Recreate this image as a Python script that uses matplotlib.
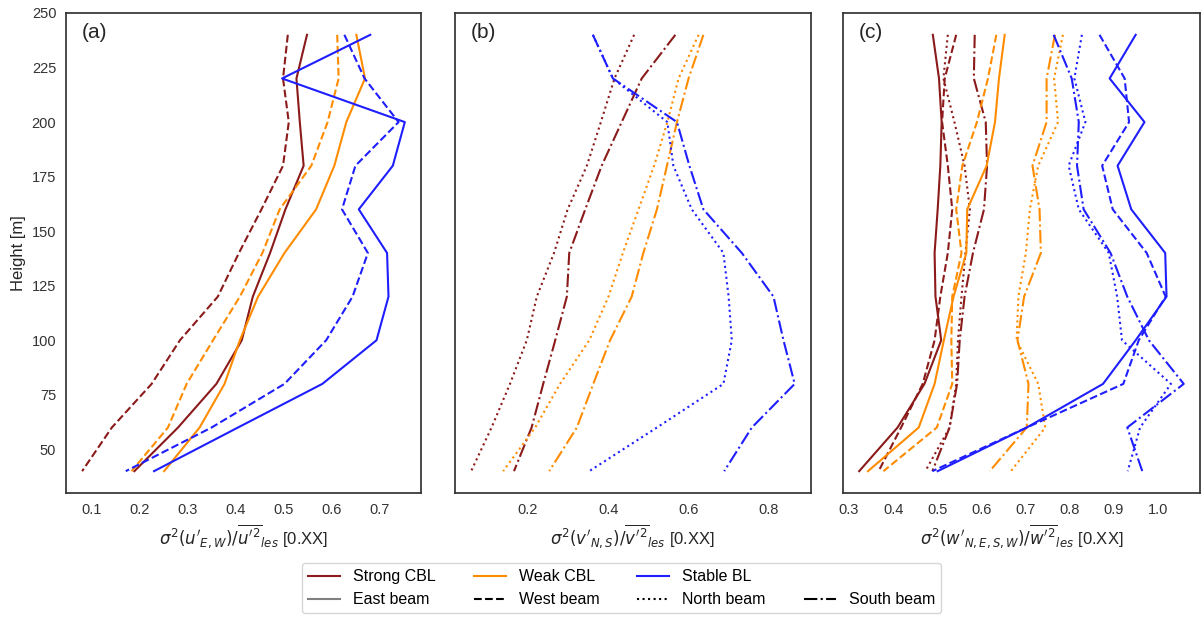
import matplotlib
matplotlib.use('Agg')
import matplotlib.pyplot as plt
from matplotlib.lines import Line2D

plt.rcParams['font.family'] = ['Liberation Sans', 'DejaVu Sans']
plt.rcParams['mathtext.fontset'] = 'dejavusans'

heights = [240, 220, 200, 180, 160, 140, 120, 100, 80, 60, 40]

# (a) u variance, east / west beams
strong_u_east = [0.549, 0.527, 0.534, 0.542, 0.504, 0.472, 0.436, 0.413, 0.360, 0.280, 0.189]
strong_u_west = [0.509, 0.499, 0.511, 0.499, 0.454, 0.407, 0.363, 0.284, 0.225, 0.142, 0.080]
weak_u_east = [0.652, 0.670, 0.631, 0.606, 0.568, 0.502, 0.447, 0.409, 0.377, 0.325, 0.251]
weak_u_west = [0.612, 0.615, 0.592, 0.558, 0.492, 0.456, 0.409, 0.353, 0.298, 0.259, 0.183]
stable_u_east = [0.681, 0.497, 0.753, 0.728, 0.657, 0.716, 0.719, 0.694, 0.581, 0.405, 0.230]
stable_u_west = [0.627, 0.669, 0.740, 0.650, 0.622, 0.676, 0.644, 0.589, 0.502, 0.350, 0.171]

# (b) v variance, north / south beams
strong_v_north = [0.465, 0.416, 0.382, 0.347, 0.299, 0.265, 0.222, 0.197, 0.155, 0.109, 0.058]
strong_v_south = [0.568, 0.484, 0.434, 0.384, 0.343, 0.303, 0.297, 0.268, 0.238, 0.209, 0.165]
weak_v_north = [0.626, 0.576, 0.548, 0.515, 0.476, 0.437, 0.401, 0.353, 0.280, 0.218, 0.138]
weak_v_south = [0.638, 0.601, 0.572, 0.547, 0.522, 0.488, 0.459, 0.405, 0.363, 0.322, 0.253]
stable_v_north = [0.362, 0.412, 0.548, 0.563, 0.609, 0.688, 0.701, 0.709, 0.688, 0.522, 0.353]
stable_v_south = [0.362, 0.412, 0.572, 0.603, 0.638, 0.734, 0.813, 0.838, 0.866, 0.759, 0.690]

# (c) w variance, all four beams
strong_w_east = [0.490, 0.504, 0.510, 0.507, 0.501, 0.494, 0.496, 0.509, 0.471, 0.410, 0.323]
strong_w_west = [0.543, 0.517, 0.511, 0.524, 0.534, 0.524, 0.507, 0.494, 0.467, 0.418, 0.367]
strong_w_north = [0.524, 0.514, 0.539, 0.562, 0.574, 0.564, 0.555, 0.547, 0.543, 0.528, 0.473]
strong_w_south = [0.585, 0.583, 0.610, 0.613, 0.606, 0.581, 0.562, 0.551, 0.545, 0.528, 0.489]
weak_w_east = [0.653, 0.640, 0.631, 0.612, 0.568, 0.566, 0.537, 0.515, 0.494, 0.458, 0.343]
weak_w_west = [0.634, 0.615, 0.590, 0.557, 0.543, 0.555, 0.534, 0.532, 0.534, 0.499, 0.378]
weak_w_north = [0.785, 0.765, 0.774, 0.729, 0.710, 0.701, 0.684, 0.680, 0.729, 0.745, 0.667]
weak_w_south = [0.767, 0.748, 0.748, 0.716, 0.732, 0.735, 0.697, 0.682, 0.707, 0.703, 0.619]
stable_w_east = [0.950, 0.891, 0.970, 0.909, 0.940, 1.017, 1.020, 0.950, 0.876, 0.703, 0.501]
stable_w_west = [0.868, 0.925, 0.935, 0.874, 0.898, 0.975, 1.018, 0.957, 0.922, 0.703, 0.489]
stable_w_north = [0.828, 0.811, 0.836, 0.798, 0.821, 0.889, 0.908, 0.919, 1.030, 0.960, 0.932]
stable_w_south = [0.764, 0.805, 0.821, 0.817, 0.832, 0.893, 0.931, 0.980, 1.059, 0.931, 0.965]

c_strong = '#8b1a1a'
c_weak = '#ff8c00'
c_stable = '#1e1eff'
lw = 1.5

fig = plt.figure(figsize=(12.02, 6.19), dpi=100)
ax_a = fig.add_axes([0.0549, 0.2036, 0.2953, 0.7754])
ax_b = fig.add_axes([0.3785, 0.2036, 0.2961, 0.7754], sharey=ax_a)
ax_c = fig.add_axes([0.7013, 0.2036, 0.2970, 0.7754], sharey=ax_a)

# (a)
ax_a.plot(strong_u_east, heights, color=c_strong, ls='-', lw=lw)
ax_a.plot(strong_u_west, heights, color=c_strong, ls='--', lw=lw)
ax_a.plot(weak_u_east, heights, color=c_weak, ls='-', lw=lw)
ax_a.plot(weak_u_west, heights, color=c_weak, ls='--', lw=lw)
ax_a.plot(stable_u_east, heights, color=c_stable, ls='-', lw=lw)
ax_a.plot(stable_u_west, heights, color=c_stable, ls='--', lw=lw)

# (b)
ax_b.plot(strong_v_north, heights, color=c_strong, ls=':', lw=lw)
ax_b.plot(strong_v_south, heights, color=c_strong, ls='-.', lw=lw)
ax_b.plot(weak_v_north, heights, color=c_weak, ls=':', lw=lw)
ax_b.plot(weak_v_south, heights, color=c_weak, ls='-.', lw=lw)
ax_b.plot(stable_v_north, heights, color=c_stable, ls=':', lw=lw)
ax_b.plot(stable_v_south, heights, color=c_stable, ls='-.', lw=lw)

# (c)
for vals, col, ls in [(strong_w_east, c_strong, '-'), (strong_w_west, c_strong, '--'),
                      (strong_w_north, c_strong, ':'), (strong_w_south, c_strong, '-.'),
                      (weak_w_east, c_weak, '-'), (weak_w_west, c_weak, '--'),
                      (weak_w_north, c_weak, ':'), (weak_w_south, c_weak, '-.'),
                      (stable_w_east, c_stable, '-'), (stable_w_west, c_stable, '--'),
                      (stable_w_north, c_stable, ':'), (stable_w_south, c_stable, '-.')]:
    ax_c.plot(vals, heights, color=col, ls=ls, lw=lw)

ax_a.set_yticks(range(50, 251, 25))
ax_a.set_ylim(30, 250)
ax_a.set_xticks([0.1, 0.2, 0.3, 0.4, 0.5, 0.6, 0.7])
ax_b.set_xticks([0.2, 0.4, 0.6, 0.8])
ax_c.set_xticks([0.3, 0.4, 0.5, 0.6, 0.7, 0.8, 0.9, 1.0])
ax_c.set_xticklabels(['0.3', '0.4', '0.5', '0.6', '0.7', '0.8', '0.9', '1.0'])
ax_a.set_ylabel('Height [m]', fontsize=12, color='#262626')

ax_a.set_xlabel(r"$\sigma^2(u'_{E,W})/\overline{u'^2}_{les}$ [0.XX]", fontsize=12, color='#262626')
ax_b.set_xlabel(r"$\sigma^2(v'_{N,S})/\overline{v'^2}_{les}$ [0.XX]", fontsize=12, color='#262626')
ax_c.set_xlabel(r"$\sigma^2(w'_{N,E,S,W})/\overline{w'^2}_{les}$ [0.XX]", fontsize=12, color='#262626')

for ax, lab in zip([ax_a, ax_b, ax_c], ['(a)', '(b)', '(c)']):
    ax.text(0.045, 0.96, lab, transform=ax.transAxes, fontsize=15, va='center', ha='left', color='#262626')
    for sp in ax.spines.values():
        sp.set_color('#333333')
        sp.set_linewidth(1.25)
    ax.tick_params(length=0, labelsize=10.5, colors='#333333', pad=7)
ax_b.tick_params(labelleft=False)
ax_c.tick_params(labelleft=False)

handles = [Line2D([], [], color=c_strong, lw=lw), Line2D([], [], color='grey', lw=lw),
           Line2D([], [], color=c_weak, lw=lw), Line2D([], [], color='black', ls='--', lw=lw),
           Line2D([], [], color=c_stable, lw=lw), Line2D([], [], color='black', ls=':', lw=lw),
           Line2D([], [], color='none', lw=0), Line2D([], [], color='black', ls='-.', lw=lw)]
labels = ['Strong CBL', 'East beam', 'Weak CBL', 'West beam', 'Stable BL', 'North beam', '', 'South beam']
fig.legend(handles, labels, ncol=4, loc='lower center', bbox_to_anchor=(0.517, -0.004),
           fontsize=11.5, frameon=True, edgecolor='#cccccc', columnspacing=2.4)

fig.savefig('out.png', dpi=100)
